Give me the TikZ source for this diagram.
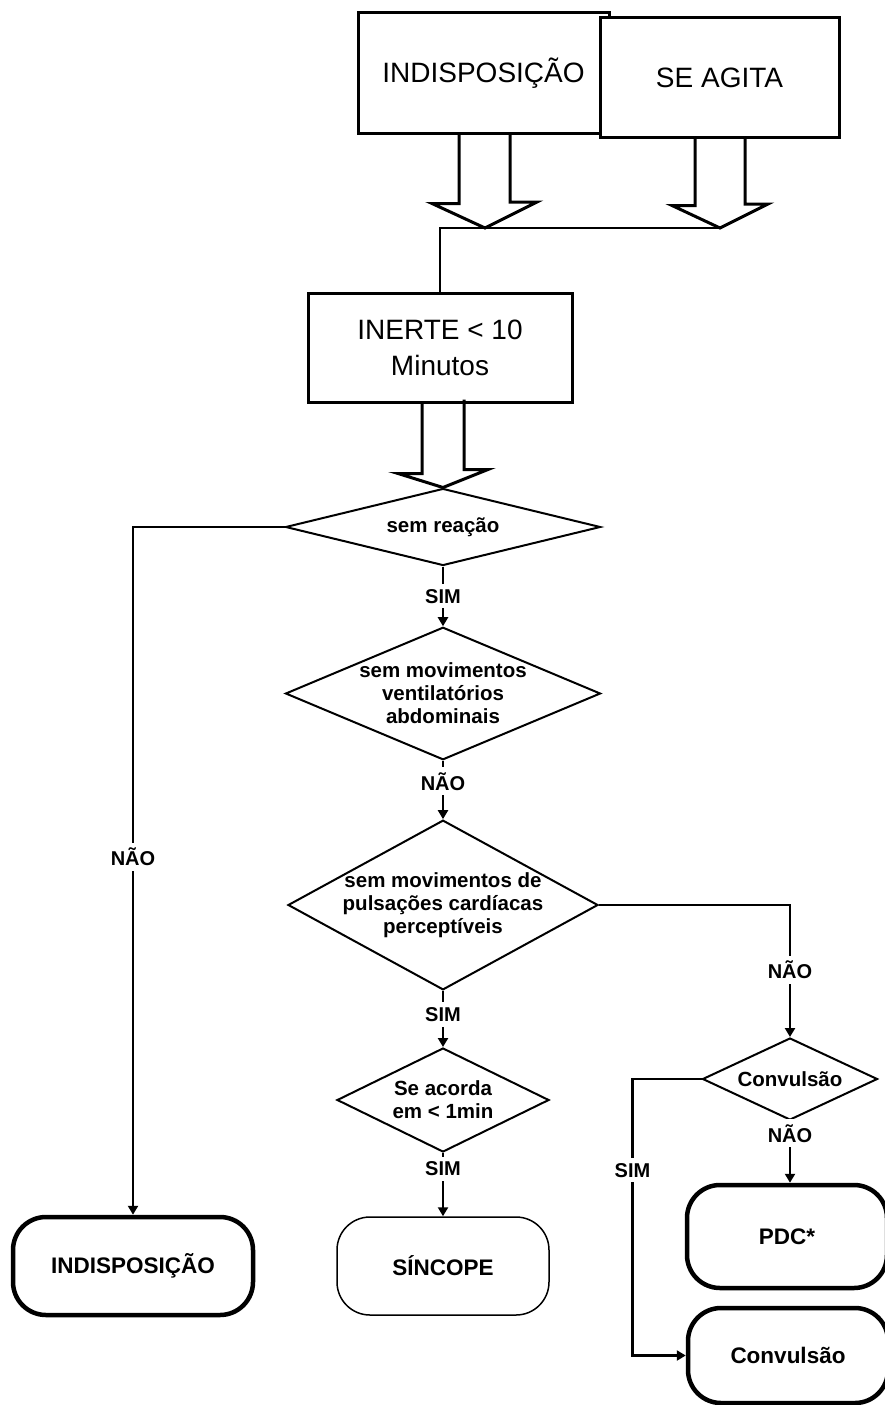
\documentclass[tikz,border=0pt]{standalone}
\usepackage{fontspec}
\setmainfont{Liberation Sans}
\usetikzlibrary{shapes.geometric, arrows.meta, calc}

\begin{document}
\begin{tikzpicture}[x=1pt, y=-1pt,
  box/.style={rectangle, draw, line width=3pt, fill=white, align=center,
    font=\fontsize{28}{36}\selectfont},
  decision/.style={diamond, draw, line width=2pt, inner sep=-24pt, align=center,
    font=\bfseries\fontsize{20.5}{23}\selectfont},
  term/.style={rectangle, draw, line width=4.5pt, rounded corners=33pt, fill=white,
    font=\bfseries\fontsize{22.5}{26}\selectfont},
  termthin/.style={term, line width=1.5pt},
  link/.style={line width=2.5pt},
  conn/.style={link, -{Triangle[length=9pt,width=10pt]}},
  blk/.style={line width=3pt, line join=miter},
  lbl/.style={fill=white, inner sep=5pt, font=\bfseries\fontsize{20}{23}\selectfont}]

  \path[fill=white, use as bounding box] (0,0) rectangle (885,1405);

  % ===== caixas do topo =====
  \node[box, minimum width=251, minimum height=120] (ind) at (483.5,73) {INDISPOSIÇÃO};
  \node[box, minimum width=239, minimum height=119] (agi) at (719.5,77.5) {SE AGITA};

  \coordinate (ja) at (485,228);
  \coordinate (jb) at (720,228);

  % setas largas
  \draw[blk] ($(ind.south)+(-24.5,0)$) -- ++(0,69) -- ++(-27,0) -- (ja)
    -- ++(52,-26) -- ++(-27,0) -- ++(0,-69);
  \draw[blk] ($(agi.south)+(-24.5,0)$) -- ++(0,67) -- ++(-23,0) -- (jb)
    -- ++(48,-24) -- ++(-23,0) -- ++(0,-67);

  \node[box, minimum width=264, minimum height=109] (inerte) at (440,347.5)
    {INERTE < 10\\Minutos};
  \draw[link] (jb) -| (inerte.north);

  % ===== decisoes =====
  \node[decision, minimum width=315, minimum height=77] (d1) at (443,527) {sem reação};
  \node[decision, minimum width=315, minimum height=123] (d2) at (443,693.5)
    {sem movimentos\\ventilatórios\\abdominais};
  \node[decision, minimum width=310, minimum height=156] (d3) at (443,905)
    {sem movimentos de\\pulsações cardíacas\\perceptíveis};
  \node[decision, minimum width=212, minimum height=104] (d4) at (443,1100)
    {Se acorda\\em < 1min};
  \node[decision, minimum width=175, minimum height=82] (d5) at (790,1079) {Convulsão};

  \draw[blk] ($(inerte.south -| d1.north)+(-21,0)$) -- ++(0,70) -- ++(-24,0) -- (d1.north)
    -- ++(45,-18) -- ++(-24,0) -- ++(0,-70);

  % ===== terminais =====
  \node[term, minimum width=240, minimum height=98] (t1) at (133,1266) {INDISPOSIÇÃO};
  \node[termthin, minimum width=212, minimum height=98] (t2) at (443,1266) {SÍNCOPE};
  \node[term, minimum width=200, minimum height=103] (t3) at (787,1236.5) {PDC*};
  \node[term, minimum width=200, minimum height=95] (t4) at (788,1355.5) {Convulsão};

  % ===== ligacoes =====
  \draw[conn] (d1.west) -| node[lbl, pos=0.74] {NÃO} (t1.north);
  \draw[conn] (d1) -- node[lbl] {SIM} (d2);
  \draw[conn] (d2) -- node[lbl, pos=0.35] {NÃO} (d3);
  \draw[conn] (d3) -- node[lbl, pos=0.42] {SIM} (d4);
  \draw[conn] (d4) -- node[lbl, pos=0.25] {SIM} (t2);
  \draw[conn] (d3.east) -| node[lbl, pos=0.745] {NÃO} (d5.north);
  \draw[conn] (d5) -- node[lbl, pos=0.2] {NÃO} (d5 |- t3.north);
  \draw[conn] (d5.west) -- ++(-69,0) |- node[lbl, pos=0.165] {SIM} (t4.west);

\end{tikzpicture}
\end{document}
